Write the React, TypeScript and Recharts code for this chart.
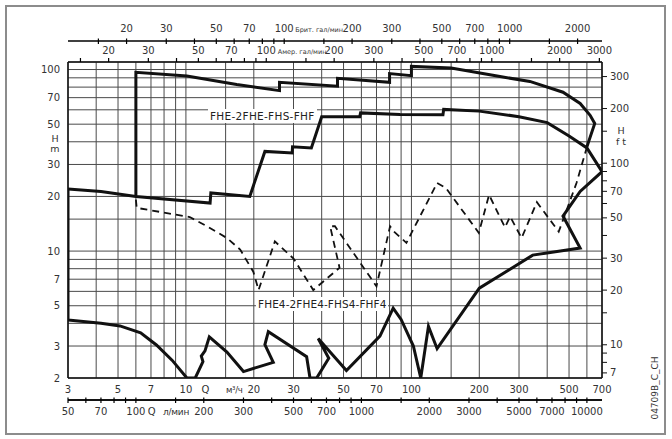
import { ComposedChart, Line, XAxis, YAxis, CartesianGrid } from 'recharts'

const FONT = '"DejaVu Sans", Verdana, sans-serif'
const INK = '#111'
const TXT = '#333'

// unit conversions (base units: Q in m³/h, H in m)
const BRIT_PER_M3H = 1000 / 60 / 4.54609
const US_PER_M3H = 1000 / 60 / 3.785412
const LMIN_PER_M3H = 1000 / 60
const FT_PER_M = 3.28084

const qDomain = [3, 700]
const hDomain = [2, 110]
const PLOT_W = 534

const qTicks = [3, 4, 5, 6, 7, 8, 9, 10, 15, 20, 30, 40, 50, 60, 70, 80, 90, 100, 150, 200, 300, 400, 500, 600, 700]
const qLabels = [3, 5, 7, 10, 20, 30, 50, 70, 100, 200, 300, 500, 700]
const lminTicks = [50, 60, 70, 80, 90, 100, 150, 200, 300, 400, 500, 600, 700, 800, 900, 1000, 1500, 2000, 3000, 4000, 5000, 6000, 7000, 8000, 9000, 10000]
const lminLabels = [50, 70, 100, 200, 300, 500, 700, 1000, 2000, 3000, 5000, 7000, 10000]
const britTicks = [15, 20, 30, 40, 50, 60, 70, 80, 90, 100, 150, 200, 300, 400, 500, 600, 700, 800, 900, 1000, 1500, 2000]
const britLabels = [20, 30, 50, 70, 100, 200, 300, 500, 700, 1000, 2000]
const usTicks = [15, 20, 30, 40, 50, 60, 70, 80, 90, 100, 150, 200, 300, 400, 500, 600, 700, 800, 900, 1000, 1500, 2000, 3000]
const usLabels = [20, 30, 50, 70, 100, 200, 300, 500, 700, 1000, 2000, 3000]
const hTicks = [2, 3, 4, 5, 6, 7, 8, 9, 10, 15, 20, 30, 40, 50, 60, 70, 80, 90, 100]
const hLabels = [2, 3, 5, 7, 10, 20, 30, 50, 70, 100]
const ftTicks = [7, 8, 9, 10, 15, 20, 30, 40, 50, 60, 70, 80, 90, 100, 150, 200, 300]
const ftLabels = [7, 10, 20, 30, 50, 70, 100, 200, 300]

// FHE-2FHE-FHS-FHF: max head envelope
const upperCurve = [
  { q: 6, h: 20 }, { q: 6, h: 96.5 }, { q: 10.1, h: 92 }, { q: 16.8, h: 82.6 }, { q: 26, h: 76.5 },
  { q: 26, h: 85 }, { q: 47, h: 81 }, { q: 47, h: 89.5 }, { q: 80, h: 85 }, { q: 80, h: 95 },
  { q: 100, h: 92.5 }, { q: 100, h: 104 }, { q: 150, h: 102 }, { q: 240, h: 92 }, { q: 335, h: 86 },
  { q: 470, h: 75 }, { q: 560, h: 65 }, { q: 620, h: 56 }, { q: 650, h: 50.5 }, { q: 600, h: 37.5 },
]

// FHE-2FHE-FHS-FHF: lower boundary
const middleCurve = [
  { q: 3, h: 22 }, { q: 4.2, h: 21.3 }, { q: 6, h: 20 }, { q: 12.8, h: 18.4 }, { q: 12.9, h: 20.9 },
  { q: 19.2, h: 20 }, { q: 22.4, h: 35.4 }, { q: 29.6, h: 34.7 }, { q: 29.7, h: 37.5 }, { q: 36, h: 37 },
  { q: 40, h: 55 }, { q: 59, h: 55 }, { q: 59.5, h: 57.7 }, { q: 89, h: 56.5 }, { q: 138, h: 56.3 },
  { q: 139, h: 60.3 }, { q: 200, h: 59 }, { q: 300, h: 55 }, { q: 400, h: 51 }, { q: 500, h: 43 },
  { q: 600, h: 37 }, { q: 700, h: 27.4 },
]

// FHE4-2FHE4-FHS4-FHF4: lower boundary
const bottomCurve = [
  { q: 3, h: 22 }, { q: 3, h: 4.18 }, { q: 4.2, h: 4.0 }, { q: 5.1, h: 3.87 }, { q: 6.3, h: 3.55 },
  { q: 7.4, h: 3.04 }, { q: 8.7, h: 2.5 }, { q: 10.1, h: 2.0 }, { q: 11, h: 2.0 }, { q: 11.9, h: 2.46 },
  { q: 11.7, h: 2.64 }, { q: 12.15, h: 2.82 }, { q: 12.7, h: 3.37 }, { q: 15.2, h: 2.78 }, { q: 18, h: 2.17 },
  { q: 24.4, h: 2.44 }, { q: 22.4, h: 3.05 }, { q: 23.2, h: 3.6 }, { q: 34.3, h: 2.62 }, { q: 35.5, h: 2.0 },
  { q: 38, h: 2.0 }, { q: 43, h: 2.57 }, { q: 38.6, h: 3.3 }, { q: 51.5, h: 2.2 }, { q: 72.5, h: 3.4 },
  { q: 83, h: 4.85 }, { q: 90, h: 4.2 }, { q: 102, h: 3.0 }, { q: 110, h: 2.0 }, { q: 119, h: 3.85 },
  { q: 130, h: 2.9 }, { q: 200, h: 6.25 }, { q: 345, h: 9.5 }, { q: 560, h: 10.4 }, { q: 470, h: 15.6 },
  { q: 560, h: 21.3 }, { q: 700, h: 27.4 },
]

// FHE4-2FHE4-FHS4-FHF4: max head (dashed)
const dashedCurve = [
  { q: 6, h: 19.2 }, { q: 6.05, h: 17.3 }, { q: 10.4, h: 15.4 }, { q: 12.4, h: 13.7 }, { q: 15.2, h: 11.8 },
  { q: 17.4, h: 10.2 }, { q: 19.9, h: 7.7 }, { q: 21, h: 6.1 }, { q: 24.8, h: 11.3 }, { q: 30, h: 9.1 },
  { q: 36.7, h: 6.1 }, { q: 48, h: 8.1 }, { q: 43.6, h: 13.7 }, { q: 45.8, h: 13.7 }, { q: 70, h: 6.4 },
  { q: 80.4, h: 13.7 }, { q: 83.7, h: 12.8 }, { q: 95, h: 11.1 }, { q: 130, h: 23.7 }, { q: 142, h: 22.3 },
  { q: 199, h: 12.6 }, { q: 221, h: 20.4 }, { q: 260, h: 13.5 }, { q: 274, h: 15.5 }, { q: 308, h: 11.8 },
  { q: 360, h: 18.6 }, { q: 450, h: 12.8 }, { q: 480, h: 15.9 }, { q: 540, h: 23.8 }, { q: 600, h: 37.4 },
]

// the same envelope expressed in the secondary flow units, so those axes get a data range
const inUnits = (k: number) => upperCurve.map(d => ({ q: d.q * k, h: d.h }))

type Extra = { dx: number; text: string; size?: number; anchor?: 'start' | 'middle'; spacing?: number }

// tick mark (filled rect) + label; `rule` draws the axis rule from the first tick
function xTick(labels: number[], up: number, down: number, dy: number, extra: Record<number, Extra[]> = {}, rule = false) {
  return (p: any) => {
    const v = p.payload.value
    const x = Number(p.x)
    const y = Number(p.y)
    return (
      <g>
        {rule && p.index === 0 ? <rect x={x} y={y - 0.7} width={PLOT_W} height={1.4} fill="#000" /> : null}
        {up + down > 0 ? <rect x={x - 0.6} y={y - up} width={1.2} height={up + down} fill="#000" /> : null}
        {labels.includes(v) ? (
          <text x={x} y={y + dy} textAnchor="middle" fontSize={10} fontFamily={FONT} fill={TXT}>{v}</text>
        ) : null}
        {(extra[v] || []).map((e, i) => (
          <text key={i} x={x + e.dx} y={y + dy} textAnchor={e.anchor ?? 'start'} fontSize={e.size ?? 10}
            letterSpacing={e.spacing ?? 0} fontFamily={FONT} fill={TXT}>{e.text}</text>
        ))}
      </g>
    )
  }
}

function leftTick(p: any) {
  const v = p.payload.value
  if (!hLabels.includes(v)) return <g />
  return <text x={p.x - 8} y={p.y + 3.5} textAnchor="end" fontSize={10} fontFamily={FONT} fill={TXT}>{v}</text>
}

function rightTick(p: any) {
  const v = p.payload.value
  return (
    <g>
      <line x1={p.x} x2={p.x + 5} y1={p.y} y2={p.y} stroke={INK} strokeWidth={1} />
      {ftLabels.includes(v) && (
        <text x={p.x + 8} y={p.y + 3.5} textAnchor="start" fontSize={10} fontFamily={FONT} fill={TXT}>{v}</text>
      )}
    </g>
  )
}

const qTick = xTick(qLabels, 0, 0, 14.7, {
  10: [{ dx: 19.6, text: 'Q', anchor: 'middle' }, { dx: 40, text: 'м³/ч', size: 8.5, spacing: -0.3 }],
})
const lminTick = xTick(lminLabels, 2.5, 3, 15, {
  100: [{ dx: 15.7, text: 'Q', anchor: 'middle' }, { dx: 27, text: 'л/мин', size: 9, spacing: -0.2 }],
}, true)
const usTick = xTick(usLabels, 4, 0, -8, { 100: [{ dx: 11.5, text: 'Амер. гал/мин', size: 6.5 }] })
const britTick = xTick(britLabels, 2.5, 3, -8.7, { 100: [{ dx: 11, text: 'Брит. гал/мин', size: 6.5 }] })

export default function App() {
  const lineProps = { type: 'linear' as const, dataKey: 'h', dot: false, activeDot: false, isAnimationActive: false }
  const hidden = { ...lineProps, stroke: 'none', legendType: 'none' as const }
  const layer = { position: 'absolute' as const, left: 0, top: 0 }
  const outerMargin = { top: 0, right: 70, bottom: 0, left: 68 }
  return (
    <div style={{ position: 'absolute', left: 0, top: 0, width: 672, height: 439, background: '#fff', fontFamily: FONT }}>
      <div style={{ position: 'absolute', left: 5, top: 5, width: 661, height: 430, boxSizing: 'border-box', border: '2px solid #8c8c8c' }} />
      {/* main plot: m³/h and US gal axes, H in m and ft */}
      <div style={layer}>
        <ComposedChart width={672} height={439} margin={{ top: 0, right: 0, bottom: 0, left: 0 }}>
          <CartesianGrid stroke="#4a4a4a" strokeWidth={1} />
          <XAxis xAxisId={0} type="number" dataKey="q" scale="log" domain={qDomain} allowDataOverflow
            orientation="bottom" height={61} ticks={qTicks} interval={0} tickSize={0} tickMargin={0}
            axisLine={{ stroke: INK, strokeWidth: 1.5 }} tickLine={false} tick={qTick} />
          <XAxis xAxisId="us" type="number" dataKey="q" scale="log" allowDataOverflow
            domain={[qDomain[0] * US_PER_M3H, qDomain[1] * US_PER_M3H]}
            orientation="top" height={62} ticks={usTicks} interval={0} tickSize={0} tickMargin={0}
            axisLine={{ stroke: INK, strokeWidth: 1.5 }} tickLine={false} tick={usTick} />
          <YAxis yAxisId={0} type="number" scale="log" domain={hDomain} allowDataOverflow width={68}
            ticks={hTicks} interval={0} tickSize={0} tickMargin={0}
            axisLine={{ stroke: INK, strokeWidth: 1.5 }} tickLine={false} tick={leftTick} />
          <YAxis yAxisId="ft" type="number" scale="log" orientation="right" allowDataOverflow width={70}
            domain={[hDomain[0] * FT_PER_M, hDomain[1] * FT_PER_M]}
            ticks={ftTicks} interval={0} tickSize={0} tickMargin={0}
            axisLine={{ stroke: INK, strokeWidth: 1.5 }} tickLine={false} tick={rightTick} />
          <Line {...hidden} xAxisId="us" data={inUnits(US_PER_M3H)} />
          <Line {...lineProps} data={dashedCurve} stroke={INK} strokeWidth={1.8} strokeDasharray="7 5" />
          <Line {...lineProps} data={upperCurve} stroke={INK} strokeWidth={3} strokeLinejoin="miter" />
          <Line {...lineProps} data={middleCurve} stroke={INK} strokeWidth={3} strokeLinejoin="miter" />
          <Line {...lineProps} data={bottomCurve} stroke={INK} strokeWidth={3} strokeLinejoin="miter" />
        </ComposedChart>
      </div>
      {/* Brit gal/min scale above */}
      <div style={layer}>
        <ComposedChart width={672} height={439} margin={outerMargin}>
          <XAxis xAxisId="brit" type="number" dataKey="q" scale="log" allowDataOverflow
            domain={[qDomain[0] * BRIT_PER_M3H, qDomain[1] * BRIT_PER_M3H]}
            orientation="top" height={41} ticks={britTicks} interval={0} tickSize={0} tickMargin={0}
            axisLine={{ stroke: '#000', strokeWidth: 1.3 }} tickLine={false} tick={britTick} />
          <YAxis type="number" scale="log" domain={hDomain} allowDataOverflow hide />
          <Line {...hidden} xAxisId="brit" data={inUnits(BRIT_PER_M3H)} />
        </ComposedChart>
      </div>
      {/* l/min scale below the m³/h labels */}
      <div style={layer}>
        <ComposedChart width={672} height={439} margin={outerMargin}>
          <XAxis xAxisId="lmin" type="number" dataKey="q" scale="log" allowDataOverflow
            domain={[qDomain[0] * LMIN_PER_M3H, qDomain[1] * LMIN_PER_M3H]}
            orientation="top" height={400} ticks={lminTicks} interval={0} tickSize={0} tickMargin={0}
            axisLine={{ stroke: '#000', strokeWidth: 1.3 }} tickLine={false} tick={lminTick} />
          <YAxis type="number" scale="log" domain={hDomain} allowDataOverflow hide />
          <Line {...hidden} xAxisId="lmin" data={inUnits(LMIN_PER_M3H)} />
        </ComposedChart>
      </div>
      <div style={{ position: 'absolute', left: 208, top: 109, padding: '0 2px', background: '#fff', fontSize: 10.5, lineHeight: '14px', letterSpacing: 0.3, color: '#222' }}>
        FHE-2FHE-FHS-FHF
      </div>
      <div style={{ position: 'absolute', left: 256, top: 297, padding: '0 2px', background: '#fff', fontSize: 10.5, lineHeight: '14px', letterSpacing: 0.1, color: '#222' }}>
        FHE4-2FHE4-FHS4-FHF4
      </div>
      <div style={{ position: 'absolute', left: 49, top: 134, width: 12, textAlign: 'center', fontSize: 9.5, lineHeight: '10px', color: TXT }}>
        H<br />m
      </div>
      <div style={{ position: 'absolute', left: 612, top: 125, width: 18, textAlign: 'center', fontSize: 9.5, lineHeight: '11px', color: TXT }}>
        H<br />f t
      </div>
      <div style={{ position: 'absolute', left: 620, top: 382, width: 70, height: 12, textAlign: 'center', fontSize: 9, lineHeight: '12px', color: TXT, transform: 'rotate(-90deg)' }}>
        04709B_C_CH
      </div>
    </div>
  )
}
